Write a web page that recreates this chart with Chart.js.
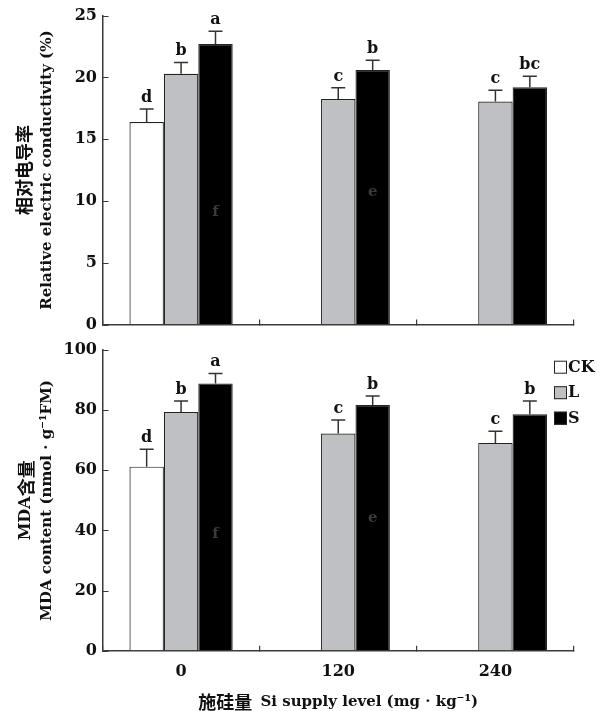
<!DOCTYPE html>
<html>
<head>
<meta charset="utf-8">
<script src="https://cdn.jsdelivr.net/npm/chart.js@4.4.1/dist/chart.umd.min.js"></script>
<style>
  body { margin: 0; background: #fff; }
  canvas { position: absolute; left: 0; }
  #ecChart { top: 0; }
  #mdaChart { top: 340px; }
</style>
</head>
<body>
<canvas id="ecChart" width="612" height="340"></canvas>
<canvas id="mdaChart" width="612" height="371"></canvas>
<script>
const categories = ['0', '120', '240'];
const seriesNames = ['CK', 'L', 'S'];
const seriesColors = ['#ffffff', '#bfc0c4', '#000000'];

// relative electric conductivity (%)
const ecCK = [16.4, null, null];
const ecL = [20.3, 18.25, 18.05];
const ecS = [22.7, 20.6, 19.2];
const ecErrCK = [1.05, null, null];
const ecErrL = [0.92, 0.92, 0.92];
const ecErrS = [1.05, 0.8, 0.9];
const ecLetters = [['d', null, null], ['b', 'c', 'c'], ['a', 'b', 'bc']];
const ecTicks = [0, 5, 10, 15, 20, 25];

// MDA content (nmol/g FM)
const mdaCK = [61.2, null, null];
const mdaL = [79.4, 72.2, 69.1];
const mdaS = [88.9, 81.7, 78.6];
const mdaErrCK = [5.8, null, null];
const mdaErrL = [3.6, 4.5, 3.9];
const mdaErrS = [3.3, 3.0, 4.4];
const mdaLetters = [['d', null, null], ['b', 'c', 'c'], ['a', 'b', 'b']];
const mdaTicks = [0, 20, 40, 60, 80, 100];

// faint letters printed inside the black bars
const ecGhosts = [{ d: 2, i: 0, t: 'f', v: 9.1 }, { d: 2, i: 1, t: 'e', v: 10.7 }];
const mdaGhosts = [{ d: 2, i: 0, t: 'f', v: 38.8 }, { d: 2, i: 1, t: 'e', v: 44 }];

const SERIF = '"DejaVu Serif", serif';
const CJK = '"Noto Sans CJK SC", sans-serif';
const INK = '#111';
const AXIS = '#3a3a3a';

function drawRuns(ctx, runs, cx, cy) {
  let total = 0;
  runs.forEach(r => { ctx.font = r.font; total += ctx.measureText(r.text).width; });
  let x = cx - total / 2;
  ctx.textAlign = 'left';
  ctx.textBaseline = 'middle';
  runs.forEach(r => {
    ctx.font = r.font;
    ctx.fillText(r.text, x, cy);
    x += ctx.measureText(r.text).width;
  });
}

function annotPlugin(cfg) {
  return {
    id: 'annot',
    afterDatasetsDraw(chart) {
      const ctx = chart.ctx;
      const y = chart.scales.y;
      ctx.save();
      cfg.errors.forEach((errs, d) => {
        const meta = chart.getDatasetMeta(d);
        const vals = chart.data.datasets[d].data;
        meta.data.forEach((bar, i) => {
          if (vals[i] == null) return;
          const top = y.getPixelForValue(vals[i] + errs[i]);
          ctx.strokeStyle = '#333';
          ctx.lineWidth = 1.5;
          ctx.beginPath();
          ctx.moveTo(bar.x, bar.y);
          ctx.lineTo(bar.x, top);
          ctx.moveTo(bar.x - 7, top);
          ctx.lineTo(bar.x + 7, top);
          ctx.stroke();
          const t = cfg.letters[d][i];
          if (t) {
            ctx.fillStyle = INK;
            ctx.font = 'bold 16px ' + SERIF;
            ctx.textAlign = 'center';
            ctx.textBaseline = 'alphabetic';
            ctx.fillText(t, bar.x, top - 7);
          }
        });
      });
      cfg.ghosts.forEach(g => {
        const bar = chart.getDatasetMeta(g.d).data[g.i];
        ctx.fillStyle = '#3a3a3a';
        ctx.font = 'bold 15px ' + SERIF;
        ctx.textAlign = 'center';
        ctx.textBaseline = 'middle';
        ctx.fillText(g.t, bar.x, y.getPixelForValue(g.v));
      });
      ctx.restore();
    },
    afterDraw(chart) {
      const ctx = chart.ctx;
      const area = chart.chartArea;
      const y = chart.scales.y;
      const cy = (area.top + area.bottom) / 2;
      ctx.save();
      // inward y ticks
      ctx.strokeStyle = AXIS;
      ctx.lineWidth = 1.2;
      ctx.beginPath();
      y.ticks.forEach(t => {
        const py = Math.round(y.getPixelForValue(t.value)) + 0.5;
        ctx.moveTo(area.left, py);
        ctx.lineTo(area.left + 6, py);
      });
      ctx.stroke();
      ctx.fillStyle = INK;
      cfg.yTitle.forEach(line => {
        ctx.save();
        ctx.translate(line.x, cy);
        ctx.rotate(-Math.PI / 2);
        drawRuns(ctx, line.runs, 0, 0);
        ctx.restore();
      });
      if (cfg.xTitle) drawRuns(ctx, cfg.xTitle.runs, (area.left + area.right) / 2, cfg.xTitle.y);
      if (cfg.legend) {
        const lg = cfg.legend;
        chart.data.datasets.forEach((ds, k) => {
          const top = lg.y + k * lg.step;
          ctx.fillStyle = ds.backgroundColor;
          ctx.fillRect(lg.x, top, 13, 13);
          ctx.strokeStyle = '#222';
          ctx.lineWidth = 1;
          ctx.strokeRect(lg.x + 0.5, top + 0.5, 12, 12);
          ctx.fillStyle = INK;
          ctx.font = 'bold 16px ' + SERIF;
          ctx.textAlign = 'left';
          ctx.textBaseline = 'middle';
          ctx.fillText(ds.label, lg.x + 14, top + 7);
        });
      }
      ctx.restore();
    }
  };
}

function createBarPanel(canvas, series, ticks, cfg, opts) {
  return new Chart(canvas.getContext('2d'), {
    type: 'bar',
    data: {
      labels: categories,
      datasets: series.map((data, k) => ({
        label: seriesNames[k],
        data: data,
        backgroundColor: seriesColors[k],
        borderColor: '#222',
        borderWidth: 1.2,
        categoryPercentage: 0.657,
        barPercentage: 1.0
      }))
    },
    options: {
      responsive: false,
      animation: false,
      layout: { padding: { left: 0, right: 38, top: opts.top, bottom: 0 } },
      plugins: { legend: { display: false }, tooltip: { enabled: false } },
      scales: {
        x: {
          grid: { display: true, offset: true, drawOnChartArea: false, tickLength: -5, color: AXIS, lineWidth: 1.2 },
          border: { color: AXIS, width: 1.5 },
          ticks: { display: opts.xLabels, color: INK, font: { family: SERIF, size: 16, weight: 'bold' }, padding: 17 },
          afterFit: s => { s.height = opts.xHeight; }
        },
        y: {
          min: 0,
          max: ticks[ticks.length - 1],
          afterBuildTicks: s => { s.ticks = ticks.map(v => ({ value: v })); },
          grid: { drawOnChartArea: false, tickLength: 5.5, color: 'rgba(0,0,0,0)' },
          border: { color: AXIS, width: 1.5 },
          ticks: { color: INK, font: { family: SERIF, size: 16, weight: 'bold' }, padding: 0 },
          afterFit: s => { s.width = 102.5; }
        }
      }
    },
    plugins: [annotPlugin(cfg)]
  });
}

document.addEventListener('DOMContentLoaded', () => {
  createBarPanel(document.getElementById('ecChart'), [ecCK, ecL, ecS], ecTicks, {
    errors: [ecErrCK, ecErrL, ecErrS],
    letters: ecLetters,
    ghosts: ecGhosts,
    yTitle: [
      { x: 24, runs: [{ text: '相对电导率', font: 'bold 18px ' + CJK }] },
      { x: 47, runs: [{ text: 'Relative electric conductivity (%)', font: 'bold 15px ' + SERIF }] }
    ]
  }, { top: 15.7, xHeight: 15.5, xLabels: false });

  createBarPanel(document.getElementById('mdaChart'), [mdaCK, mdaL, mdaS], mdaTicks, {
    errors: [mdaErrCK, mdaErrL, mdaErrS],
    letters: mdaLetters,
    ghosts: mdaGhosts,
    yTitle: [
      { x: 26, runs: [{ text: 'MDA', font: 'bold 16px ' + SERIF }, { text: '含量', font: 'bold 18px ' + CJK }] },
      { x: 47, runs: [{ text: 'MDA content (nmol · g⁻¹FM)', font: 'bold 15px ' + SERIF }] }
    ],
    xTitle: { y: 361.7, runs: [
      { text: '施硅量  ', font: 'bold 18px ' + CJK },
      { text: 'Si supply level (mg · kg⁻¹)', font: 'bold 15px ' + SERIF }
    ] },
    legend: { x: 554, y: 20.7, step: 25.5 }
  }, { top: 10, xHeight: 60.3, xLabels: true });
});
</script>
</body>
</html>
